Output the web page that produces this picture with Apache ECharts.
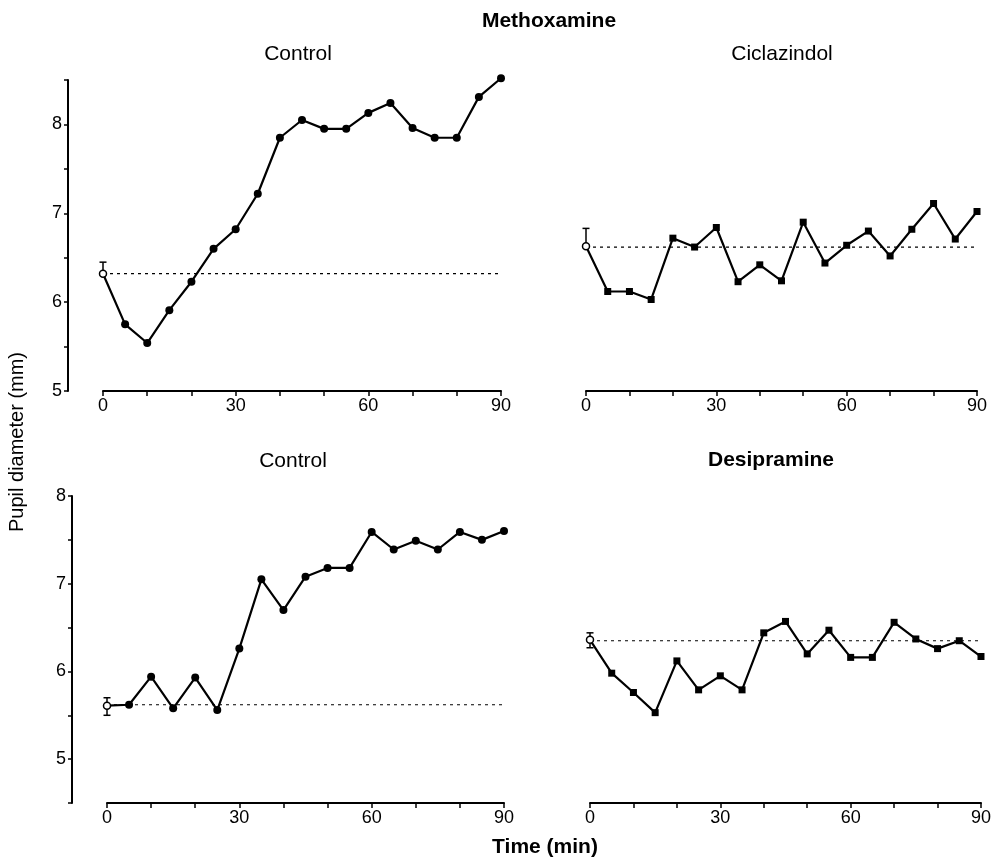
<!DOCTYPE html>
<html>
<head>
<meta charset="utf-8">
<script src="https://cdn.jsdelivr.net/npm/echarts@6/dist/echarts.min.js"></script>
<style>
  html, body { margin: 0; padding: 0; background: #fff; }
  #chart { width: 994px; height: 858px; }
</style>
</head>
<body>
<div id="chart"></div>
<script>
// time points (min)
var times = [0, 5, 10, 15, 20, 25, 30, 35, 40, 45, 50, 55, 60, 65, 70, 75, 80, 85, 90];

// pupil diameter (mm), first value = pre-drug mean (open circle)
var ctrlTop = [6.32, 5.75, 5.54, 5.91, 6.23, 6.60, 6.82, 7.22, 7.85, 8.05, 7.95, 7.95, 8.13, 8.24, 7.96, 7.85, 7.85, 8.31, 8.52];
var ciclazindol = [6.63, 6.12, 6.12, 6.03, 6.72, 6.62, 6.84, 6.23, 6.42, 6.24, 6.90, 6.44, 6.64, 6.80, 6.52, 6.82, 7.11, 6.71, 7.02];
var ctrlBottom = [5.61, 5.62, 5.94, 5.58, 5.93, 5.56, 6.26, 7.05, 6.70, 7.08, 7.18, 7.18, 7.59, 7.39, 7.49, 7.39, 7.59, 7.50, 7.60];
var desipramine = [6.36, 5.98, 5.76, 5.53, 6.12, 5.79, 5.95, 5.79, 6.44, 6.57, 6.20, 6.47, 6.16, 6.16, 6.56, 6.37, 6.26, 6.35, 6.17];

// dotted baseline for each panel
var baselines = [6.32, 6.62, 5.62, 6.35];
// error bar of the pre-drug value: [low, high]
var errLow = [6.32, 6.63, 5.50, 6.27];
var errHigh = [6.45, 6.83, 5.70, 6.44];

// tick labels
var xLabels = [0, 30, 60, 90];
var yLabels = [5, 6, 7, 8];

var panelTitles = ['Control', 'Ciclazindol', 'Control', 'Desipramine'];

var font = "'Liberation Sans', Arial, Helvetica, sans-serif";
var chart = echarts.init(document.getElementById('chart'));

var grids = [
  { left: 103, top: 80, width: 398, height: 311 },
  { left: 586, top: 80, width: 391, height: 311 },
  { left: 107, top: 496, width: 397, height: 307 },
  { left: 590, top: 496, width: 392, height: 307 }
];

var yRanges = [[5, 8.5], [5, 8.5], [4.5, 8], [4.5, 8]];

var xAxes = grids.map(function (g, i) {
  return {
    type: 'value', gridIndex: i, min: 0, max: 90, interval: 10,
    axisLine: { show: true, onZero: false, lineStyle: { color: '#000', width: 2 } },
    axisTick: { show: true, length: 5, lineStyle: { color: '#000', width: 1.5 } },
    axisLabel: {
      color: '#000', fontSize: 18, fontFamily: font, margin: 6,
      formatter: function (v) { return xLabels.indexOf(v) >= 0 ? String(v) : ''; }
    },
    splitLine: { show: false }
  };
});

var yAxes = grids.map(function (g, i) {
  var left = (i % 2 === 0);
  return {
    type: 'value', gridIndex: i, show: left, position: 'left',
    min: yRanges[i][0], max: yRanges[i][1], interval: 0.5,
    offset: 35,
    axisLine: { show: true, onZero: false, lineStyle: { color: '#000', width: 2 } },
    axisTick: { show: true, length: 4, lineStyle: { color: '#000', width: 1.5 } },
    axisLabel: {
      color: '#000', fontSize: 18, fontFamily: font, margin: 6,
      formatter: function (v) { return yLabels.indexOf(v) >= 0 ? String(v) : ''; }
    },
    splitLine: { show: false }
  };
});

var allData = [ctrlTop, ciclazindol, ctrlBottom, desipramine];
var series = [];

allData.forEach(function (vals, i) {
  var sym = (i % 2 === 0) ? 'circle' : 'rect';
  var size = (i % 2 === 0) ? 8 : 7;

  // baseline
  series.push({
    type: 'line', xAxisIndex: i, yAxisIndex: i,
    data: [[0, baselines[i]], [90, baselines[i]]],
    symbol: 'none', silent: true, z: 1,
    lineStyle: { color: '#000', width: 1.2, type: [3, 4] }
  });

  // error bar
  series.push({
    type: 'custom', xAxisIndex: i, yAxisIndex: i, z: 2, silent: true, clip: false,
    data: [[times[0], vals[0], errLow[i], errHigh[i]]],
    renderItem: function (params, api) {
      var x = api.value(0), m = api.value(1), lo = api.value(2), hi = api.value(3);
      var pLo = api.coord([x, lo]), pHi = api.coord([x, hi]);
      var st = { stroke: '#000', lineWidth: 1.5 };
      var kids = [
        { type: 'line', shape: { x1: pLo[0], y1: pLo[1], x2: pHi[0], y2: pHi[1] }, style: st },
        { type: 'line', shape: { x1: pHi[0] - 3.5, y1: pHi[1], x2: pHi[0] + 3.5, y2: pHi[1] }, style: st }
      ];
      if (lo < m) {
        kids.push({ type: 'line', shape: { x1: pLo[0] - 3.5, y1: pLo[1], x2: pLo[0] + 3.5, y2: pLo[1] }, style: st });
      }
      return { type: 'group', children: kids };
    }
  });

  // main line
  var pts = vals.map(function (v, k) {
    if (k === 0) {
      return {
        value: [times[k], v], symbol: 'circle', symbolSize: 7,
        itemStyle: { color: '#fff', borderColor: '#000', borderWidth: 1.5 }
      };
    }
    return [times[k], v];
  });
  series.push({
    type: 'line', xAxisIndex: i, yAxisIndex: i, z: 3, clip: false,
    data: pts, symbol: sym, symbolSize: size, showAllSymbol: true,
    itemStyle: { color: '#000', borderWidth: 0 },
    lineStyle: { color: '#000', width: 2.2 }
  });
});

var titlePos = [[298, 54], [782, 54], [293, 461], [771, 460]];

var graphics = [
  { type: 'text', x: 549, y: 21, style: { text: 'Methoxamine', font: 'bold 21px ' + font, fill: '#000', textAlign: 'center', textVerticalAlign: 'middle' } },
  { type: 'text', x: 545, y: 847, style: { text: 'Time (min)', font: 'bold 21px ' + font, fill: '#000', textAlign: 'center', textVerticalAlign: 'middle' } },
  { type: 'text', x: 17, y: 442, rotation: Math.PI / 2, style: { text: 'Pupil diameter (mm)', font: '20px ' + font, fill: '#000', textAlign: 'center', textVerticalAlign: 'middle' } }
];
panelTitles.forEach(function (t, i) {
  var bold = (t === 'Desipramine');
  graphics.push({
    type: 'text', x: titlePos[i][0], y: titlePos[i][1],
    style: { text: t, font: (bold ? 'bold ' : '') + '21px ' + font, fill: '#000', textAlign: 'center', textVerticalAlign: 'middle' }
  });
});

chart.setOption({
  backgroundColor: '#fff',
  animation: false,
  grid: grids,
  xAxis: xAxes,
  yAxis: yAxes,
  series: series,
  graphic: graphics
});
</script>
</body>
</html>
